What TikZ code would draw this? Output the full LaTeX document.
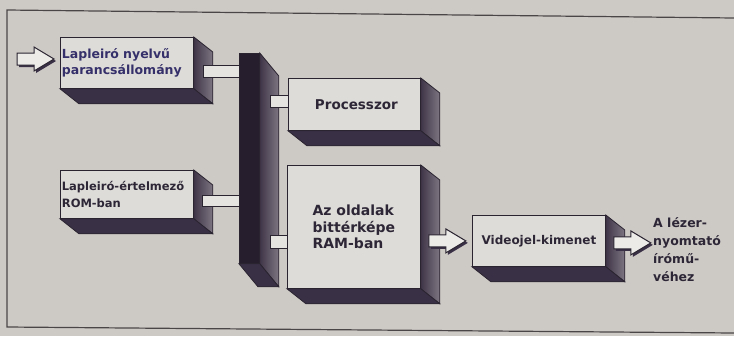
\documentclass[tikz,border=0pt]{standalone}
\usepackage{fontspec}
\setmainfont{DejaVu Sans}
\usetikzlibrary{calc}
\pgfdeclarelayer{paper}
\pgfdeclarelayer{back}
\pgfsetlayers{paper,back,main}
\definecolor{bgc}{HTML}{CDCAC6}
\definecolor{facec}{HTML}{DEDCD8}
\definecolor{edgec}{HTML}{2A2430}
\definecolor{darkc}{HTML}{3A3046}
\definecolor{sidel}{HTML}{3F3548}
\definecolor{sider}{HTML}{7E7682}
\definecolor{busc}{HTML}{261E2C}
\definecolor{arrc}{HTML}{ECEBE8}
\definecolor{stubc}{HTML}{E6E4E0}
\definecolor{textc}{HTML}{2C2636}
\definecolor{bluec}{HTML}{35306A}
\definecolor{framec}{HTML}{4A4648}
\newcommand\fsz[2]{\fontsize{#1bp}{#2bp}\selectfont\bfseries}
\newcommand\extrude[3]{%
  \begin{pgfonlayer}{back}
    \shadedraw[sideface] (#1.north east) -- ++(#2,#3) -- ($(#1.south east)+(#2,#3)$) -- (#1.south east) -- cycle;
    \filldraw[bottomface] (#1.south west) -- ($(#1.south west)+(#2,#3)$) -- ($(#1.south east)+(#2,#3)$) -- (#1.south east) -- cycle;
  \end{pgfonlayer}}
\newcommand\barrow[2]{%
  \begin{scope}[shift={#1}]
    \fill[arrshadow] (2,-4) -- (#2-18,-4) -- (#2-18,-10) -- (#2+2,2) -- (#2-18,14) -- (#2-18,8) -- (2,8) -- cycle;
    \filldraw[arrbody] (0,-6) -- (#2-20,-6) -- (#2-20,-12) -- (#2,0) -- (#2-20,12) -- (#2-20,6) -- (0,6) -- cycle;
  \end{scope}}
\begin{document}
\begin{tikzpicture}[x=1bp,y=-1bp,
  face/.style={draw=edgec, fill=facec, line width=0.8bp, inner sep=0pt, text=textc},
  busface/.style={draw=edgec, fill=busc, line width=0.8bp, inner sep=0pt},
  sideface/.style={left color=sidel, right color=sider, draw=edgec, line width=0.8bp},
  bottomface/.style={fill=darkc, draw=edgec, line width=0.8bp},
  stub/.style={draw=edgec, fill=stubc, line width=0.8bp},
  arrbody/.style={draw=edgec, fill=arrc, line width=1bp, line join=miter},
  arrshadow/.style={fill=darkc},
  frame/.style={draw=framec, line width=1.2bp},
  label/.style={text=textc, inner sep=0pt, align=left}]
\useasboundingbox (0,0) rectangle (734,336);
\begin{pgfonlayer}{paper}
\fill[bgc] (0,0) rectangle (734,336);
\draw[frame] (734,18) -- (7,10) -- (7,327) -- (734,333);
\end{pgfonlayer}

% boxes
\node[face, anchor=north west, minimum width=133bp, minimum height=51bp, text width=130bp, inner xsep=1.5bp, align=left, text=bluec, font=\fsz{12.5}{16}] (lap) at (60,37) {Lapleiró nyelvű\\parancsállomány};
\extrude{lap}{19}{15}
\node[busface, anchor=north west, minimum width=20bp, minimum height=210bp] (bus) at (239,53) {};
\extrude{bus}{19}{23}
\node[face, anchor=north west, minimum width=132bp, minimum height=52bp, font=\fsz{13.5}{16}] (proc) at (288,78) {\hspace*{4bp}Processzor};
\extrude{proc}{19}{15}
\node[face, anchor=north west, minimum width=133bp, minimum height=48bp, text width=130bp, inner xsep=1.5bp, align=left, font=\fsz{11.5}{17}] (rom) at (60,170) {Lapleiró-értelmező\\ROM-ban};
\extrude{rom}{19}{15}
\node[face, anchor=north west, minimum width=133bp, minimum height=123bp, align=left, font=\fsz{14}{16.5}] (ram) at (287,165) {Az oldalak\\bittérképe\\RAM-ban};
\extrude{ram}{19}{15}
\node[face, anchor=north west, minimum width=133bp, minimum height=51bp, font=\fsz{12}{16}] (vid) at (472,215) {Videojel-kimenet};
\extrude{vid}{19}{15}
\node[label, anchor=west, font=\fsz{12.5}{18}] (out) at (653,250) {A lézer-\\nyomtató\\írómű-\\véhez};

% stubs
\draw[stub] ($(lap.north east)+(10,28)$) rectangle ($(bus.north west)+(0,24)$);
\draw[stub] ($(bus.north east)+(11,42)$) rectangle ($(proc.north west)+(0,29)$);
\draw[stub] ($(rom.north east)+(9,25)$) rectangle ($(bus.north west)+(0,153)$);
\draw[stub] ($(bus.north east)+(11,182)$) rectangle ($(ram.north west)+(0,83)$);

% arrows
\coordinate (src) at (17,59);
\barrow{(src)}{37}
\barrow{($(ram.east)+(8,14)$)}{37}
\barrow{($(vid.east)+(8,2)$)}{37}
\end{tikzpicture}
\end{document}
